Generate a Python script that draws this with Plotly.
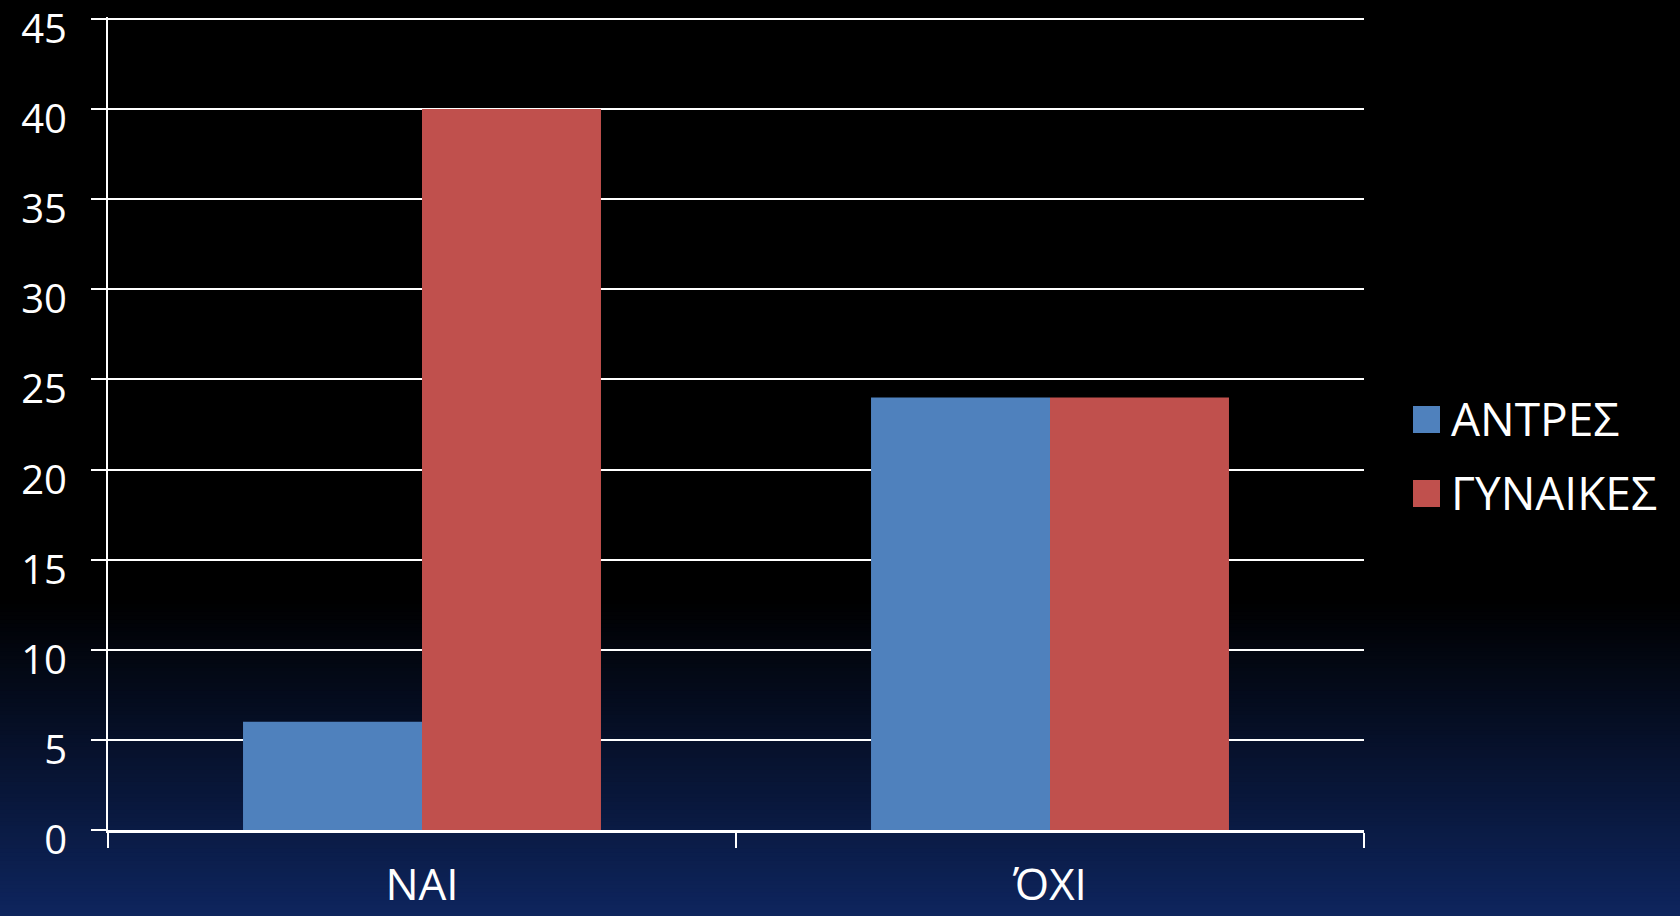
import plotly.graph_objects as go

categories = ["ΝΑΙ", "ΌΧΙ"]
series_names = ["ΑΝΤΡΕΣ", "ΓΥΝΑΙΚΕΣ"]
antres = [6, 24]
gynaikes = [40, 24]
series_values = [antres, gynaikes]
series_colors = ["#4F81BD", "#C0504D"]
y_ticks = [0, 5, 10, 15, 20, 25, 30, 35, 40, 45]

W, H = 1680, 916
L, R, T, B = 108, 316, 17, 86
FONT = "Open Sans"
FS = 40
FS_BIG = 44
FS_LEG = 46
Y_TOP = 45 * (H - B - T) / (H - B - 19)  # tiny headroom so the 45 line shows

fig = go.Figure()
for name, vals, col in zip(series_names, series_values, series_colors):
    fig.add_trace(go.Bar(x=categories, y=vals, name=name,
                         marker=dict(color=col, line=dict(width=0)),
                         showlegend=False))

# background gradient (black -> navy) as paper-level strips
shapes = []
ph = H - T - B
pw = W - L - R
def py(pix):
    return (H - B - pix) / ph
def px(pix):
    return (pix - L) / pw
start = 600
n = 80
c1 = (14, 37, 94)
for i in range(n):
    y0 = start + (H - start) * i / n
    y1 = start + (H - start) * (i + 1) / n + 1
    f = (i + 0.5) / n
    col = "rgb(%d,%d,%d)" % tuple(round(c * f) for c in c1)
    shapes.append(dict(type="rect", xref="paper", yref="paper",
                       x0=px(-5), x1=px(W + 5),
                       y0=py(y1), y1=py(y0), fillcolor=col,
                       line=dict(width=0), layer="below"))

# legend drawn manually (large square swatches)
annotations = []
leg_top = [406, 480]
for name, col, top in zip(series_names, series_colors, leg_top):
    shapes.append(dict(type="rect", xref="paper", yref="paper",
                       x0=px(1413), x1=px(1440), y0=py(top + 27), y1=py(top),
                       fillcolor=col, line=dict(width=0)))
    annotations.append(dict(xref="paper", yref="paper", x=px(1449), y=py(top + 12),
                            xanchor="left", yanchor="middle", text=name, showarrow=False,
                            font=dict(family=FONT, size=FS_LEG, color="white")))

fig.update_layout(
    width=W, height=H, autosize=False,
    margin=dict(l=L, r=R, t=T, b=B, pad=0, autoexpand=False),
    paper_bgcolor="black", plot_bgcolor="rgba(0,0,0,0)",
    barmode="group", bargap=0.43, bargroupgap=0,
    font=dict(family=FONT, size=FS, color="white"),
    shapes=shapes, annotations=annotations,
    showlegend=False,
)
fig.update_xaxes(type="category", tickson="boundaries", ticks="outside", ticklen=15,
                 tickwidth=2, tickcolor="white", showline=True, linecolor="white",
                 linewidth=3, showgrid=False, automargin=False,
                 tickfont=dict(family=FONT, size=FS_BIG, color="white"),
                 ticklabelstandoff=14, mirror=False)
fig.update_yaxes(range=[0, Y_TOP], tickvals=y_ticks, ticks="outside", ticklen=15,
                 tickwidth=2, tickcolor="white", showline=True, linecolor="white",
                 linewidth=2, showgrid=True, gridcolor="white", gridwidth=2,
                 zeroline=False, automargin=False, ticklabeloverflow="allow",
                 tickfont=dict(family=FONT, size=FS, color="white"),
                 ticklabelstandoff=16, ticklabelshift=10)

fig.write_html("out.html", config={"displayModeBar": False},
               post_script="document.body.style.margin='0';document.body.style.padding='0';document.body.style.overflow='hidden';")
